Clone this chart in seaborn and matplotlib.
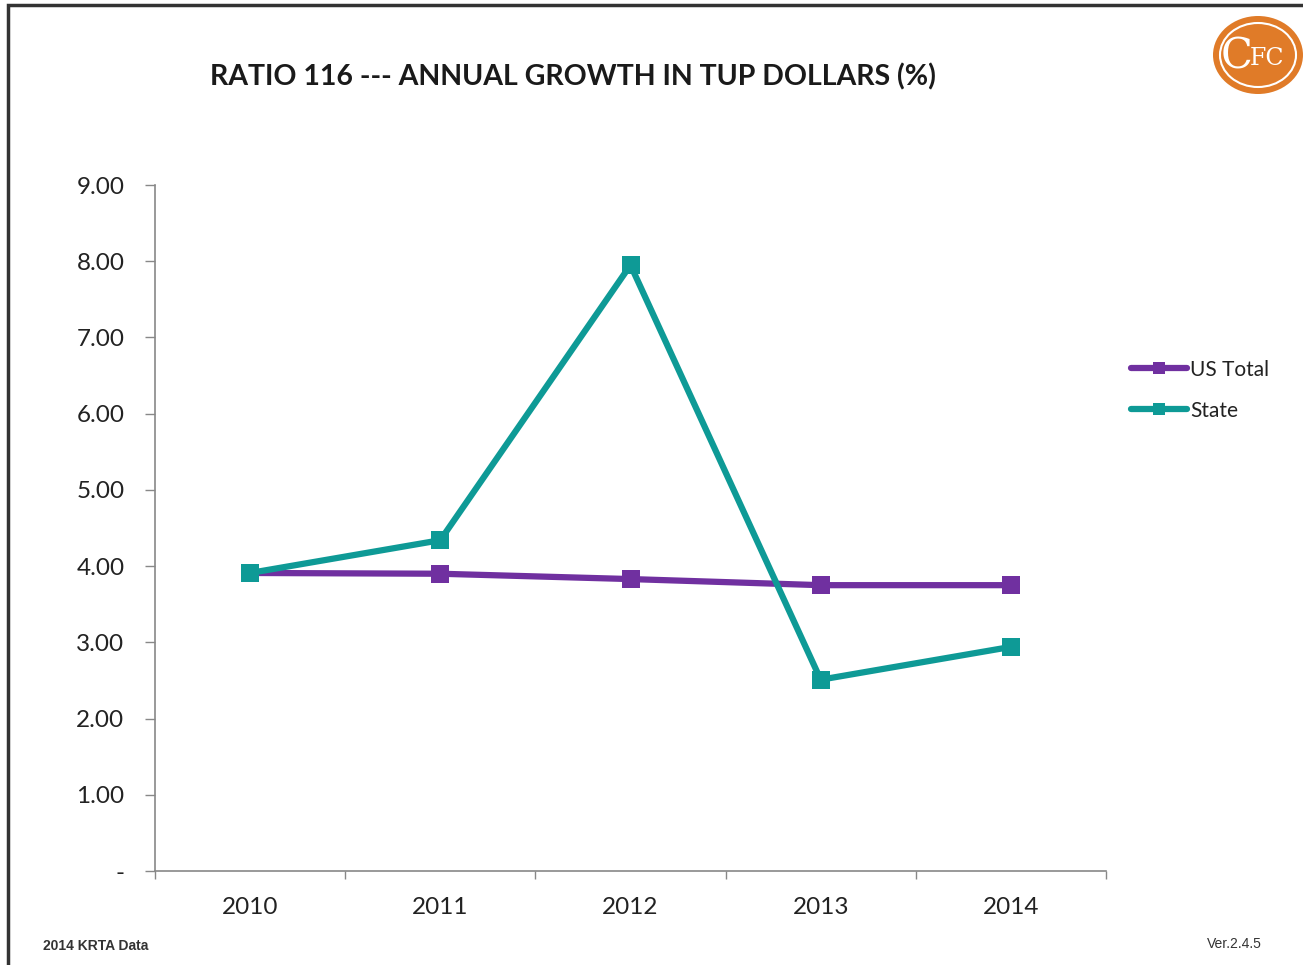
import matplotlib
matplotlib.use("Agg")
import matplotlib.pyplot as plt
import matplotlib.patches as mpatches
import pandas as pd
import seaborn as sns

sns.set_theme(style="ticks")
plt.rcParams['font.family'] = ['Lato', 'DejaVu Sans']

# data
years = ['2010', '2011', '2012', '2013', '2014']
us_total = [3.91, 3.90, 3.83, 3.75, 3.75]
state = [3.91, 4.34, 7.95, 2.51, 2.94]
yticks = [0, 1, 2, 3, 4, 5, 6, 7, 8, 9]
ytick_labels = ['-', '1.00', '2.00', '3.00', '4.00', '5.00', '6.00', '7.00', '8.00', '9.00']

df = pd.DataFrame({'year': years * 2,
                   'value': us_total + state,
                   'series': ['US Total'] * 5 + ['State'] * 5})
palette = {'US Total': '#7030A0', 'State': '#0E9A96'}

fig = plt.figure(figsize=(13.03, 9.65), dpi=100)
ax = fig.add_axes([155 / 1303, 1 - 871 / 965, (1106 - 155) / 1303, (871 - 185) / 965])

sns.lineplot(data=df, x='year', y='value', hue='series', palette=palette,
             marker='s', markersize=13, markeredgewidth=0, linewidth=4.5,
             sort=False, ax=ax, legend=False)

ax.set_xlim(-0.5, 4.5)
ax.set_ylim(0, 9)
ax.set_yticks(yticks)
ax.set_yticklabels(ytick_labels)
ax.set_xticks(range(len(years)))
ax.set_xticklabels(years)
ax.set_xticks([i - 0.5 for i in range(len(years) + 1)], minor=True)
ax.tick_params(axis='x', which='major', length=0, pad=19, labelsize=17.5, labelcolor='#222222')
ax.tick_params(axis='x', which='minor', length=6, width=1, color='#888888')
ax.tick_params(axis='y', length=7, width=1, color='#888888', labelsize=17.5,
               labelcolor='#222222', pad=15)
ax.set_xlabel('')
ax.set_ylabel('')
for s in ['top', 'right']:
    ax.spines[s].set_visible(False)
for s in ['left', 'bottom']:
    ax.spines[s].set_color('#888888')
    ax.spines[s].set_linewidth(1.2)

# legend
handles = [plt.Line2D([], [], color=palette[k], marker='s', markersize=8,
                      markeredgewidth=0, linewidth=4.5) for k in ['US Total', 'State']]
fig.legend(handles, ['US Total', 'State'], loc='upper left',
           bbox_to_anchor=(1112 / 1303, 1 - 341 / 965), frameon=False,
           fontsize=15, handlelength=2.7, handletextpad=0.15, labelspacing=1.0,
           labelcolor='#222222')

fig.text(573 / 1303, 1 - 77 / 965, 'RATIO 116 --- ANNUAL GROWTH IN TUP DOLLARS (%)',
         ha='center', va='center', fontsize=20.5, fontweight='bold', color='#1a1a1a')
fig.text(43 / 1303, 1 - 946 / 965, '2014 KRTA Data', ha='left', va='center',
         fontsize=10, fontweight='bold', color='#333333', family=['Liberation Sans'])
fig.text(1262 / 1303, 1 - 944 / 965, 'Ver.2.4.5', ha='right', va='center',
         fontsize=10, color='#333333', family=['Liberation Sans'])

# frame
fig.add_artist(mpatches.Rectangle((8 / 1303, -0.01), 1.05, 1 - 5 / 965 + 0.01,
                                  transform=fig.transFigure, fill=False,
                                  edgecolor='#333333', linewidth=2.5))

# logo
cx, cy = 1258 / 1303, 1 - 55 / 965
fig.add_artist(mpatches.Ellipse((cx, cy), 90 / 1303, 78 / 965, transform=fig.transFigure,
                                facecolor='#E07B28', edgecolor='none'))
fig.add_artist(mpatches.Ellipse((cx, cy), 76 / 1303, 64 / 965, transform=fig.transFigure,
                                facecolor='none', edgecolor='white', linewidth=1.5))
fig.text(cx - 0.004, cy - 0.002, 'C', ha='right', va='center', fontsize=30,
         color='white', family=['DejaVu Serif'])
fig.text(cx - 0.006, cy - 0.004, 'FC', ha='left', va='center', fontsize=17,
         color='white', family=['DejaVu Serif'])

fig.savefig('out.png', dpi=100)
